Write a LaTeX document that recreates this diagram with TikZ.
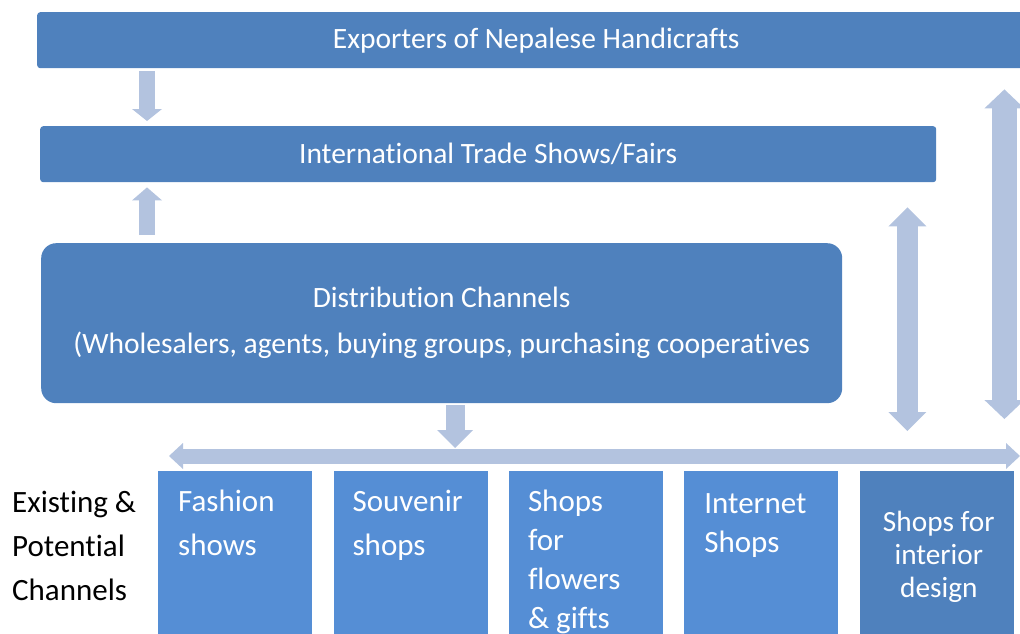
\documentclass[tikz,border=0pt]{standalone}
\usepackage{fontspec}
\setmainfont{Carlito}[Ligatures={NoCommon}]
\usetikzlibrary{arrows.meta,positioning,calc}
\definecolor{barblue}{HTML}{4F81BD}
\definecolor{chanblue}{HTML}{558ED5}
\definecolor{arrowblue}{HTML}{B3C3DF}
\begin{document}
\begin{tikzpicture}[x=1pt,y=-1pt,
 bar/.style={fill=barblue,text=white,rounded corners=3pt,anchor=north west,inner sep=0pt,font=\fontsize{29.5}{35}\selectfont},
 chan/.style={fill=chanblue,anchor=north west,minimum width=154pt,minimum height=175pt,inner sep=0pt},
 chantxt/.style={text=white,anchor=base west,inner sep=0pt,align=left,font=\fontsize{31}{44}\selectfont},
 fat/.style n args={4}{draw=arrowblue,line width=#1,#2{Triangle[length=#3,width=#4,line width=0pt]}},
]
 \useasboundingbox (0,0) rectangle (1020,634);
 \clip (0,0) rectangle (1020,634);
 % the three bars
 \node[bar,minimum width=998pt,minimum height=56pt] (exp) at (37,12) {Exporters of Nepalese Handicrafts};
 \node[bar,minimum width=896pt,minimum height=56pt] (fairs) at (40,126) {International Trade Shows/Fairs};
 \node[bar,rounded corners=15pt,minimum width=801pt,minimum height=160pt,align=center,
   font=\fontsize{29.5}{46}\selectfont] (dist) at (41,243)
   {Distribution Channels\\(Wholesalers, agents, buying groups, purchasing cooperatives};
 % channels
 \node[chan] (fash) at (158,471) {};
 \node[chan,right=21pt of fash] (souv) {};
 \node[chan,right=21pt of souv] (flow) {};
 \node[chan,right=21pt of flow] (inet) {};
 \node[chan,fill=barblue,right=21pt of inet] (intr) {};
 % text sits on the baseline of its last line
 \node[chantxt] (fasht) at ($(fash.north west)+(20,84)$) {Fashion\\shows};
 \node[chantxt] (souvt) at ($(souv.north west)+(19,84)$) {Souvenir\\shops};
 \node[chantxt,font=\fontsize{31}{39}\selectfont] (flowt) at ($(flow.north west)+(19,157)$) {Shops\\for\\flowers\\\& gifts};
 \node[chantxt,font=\fontsize{31}{39}\selectfont] (inett) at ($(inet.north west)+(20,81)$) {Internet\\Shops};
 \node[chantxt,anchor=base,align=center,font=\fontsize{29.3}{33}\selectfont] (intrt) at ($(intr.north)+(2,126)$) {Shops for\\interior\\design};
 \node[chantxt,text=black] (lab) at (12,600) {Existing \&\\Potential\\Channels};
 % arrows
 \coordinate (hl) at (169,456);
 \coordinate (hr) at (1020,456);
 \draw[fat={16pt}{-}{12pt}{30pt}] ($(exp.south west)+(110,3)$) -- ($(fairs.north west)+(107,-5)$);
 \draw[fat={16pt}{-}{13pt}{30pt}] ($(dist.north west)+(106,-8)$) -- ($(fairs.south west)+(107,5)$);
 \draw[fat={19pt}{-}{18pt}{36pt}] ($(dist.south)+(13.5,2)$) -- ($(dist.south |- hl)+(13.5,-8)$);
 \draw[fat={15pt}{{Triangle[length=14pt,width=26pt,line width=0pt]}-}{14pt}{26pt}] (hl) -- (hr);
 \draw[fat={21pt}{{Triangle[length=19pt,width=38pt,line width=0pt]}-}{19pt}{38pt}] ($(fairs.south east)+(-29,25)$) -- ($(fairs.south east |- hl)+(-29,-25)$);
 \draw[fat={25pt}{{Triangle[length=19pt,width=40pt,line width=0pt]}-}{19pt}{40pt}] ($(exp.south east)+(-31,21)$) -- ($(exp.south east |- hl)+(-31,-37)$);
\end{tikzpicture}
\end{document}
